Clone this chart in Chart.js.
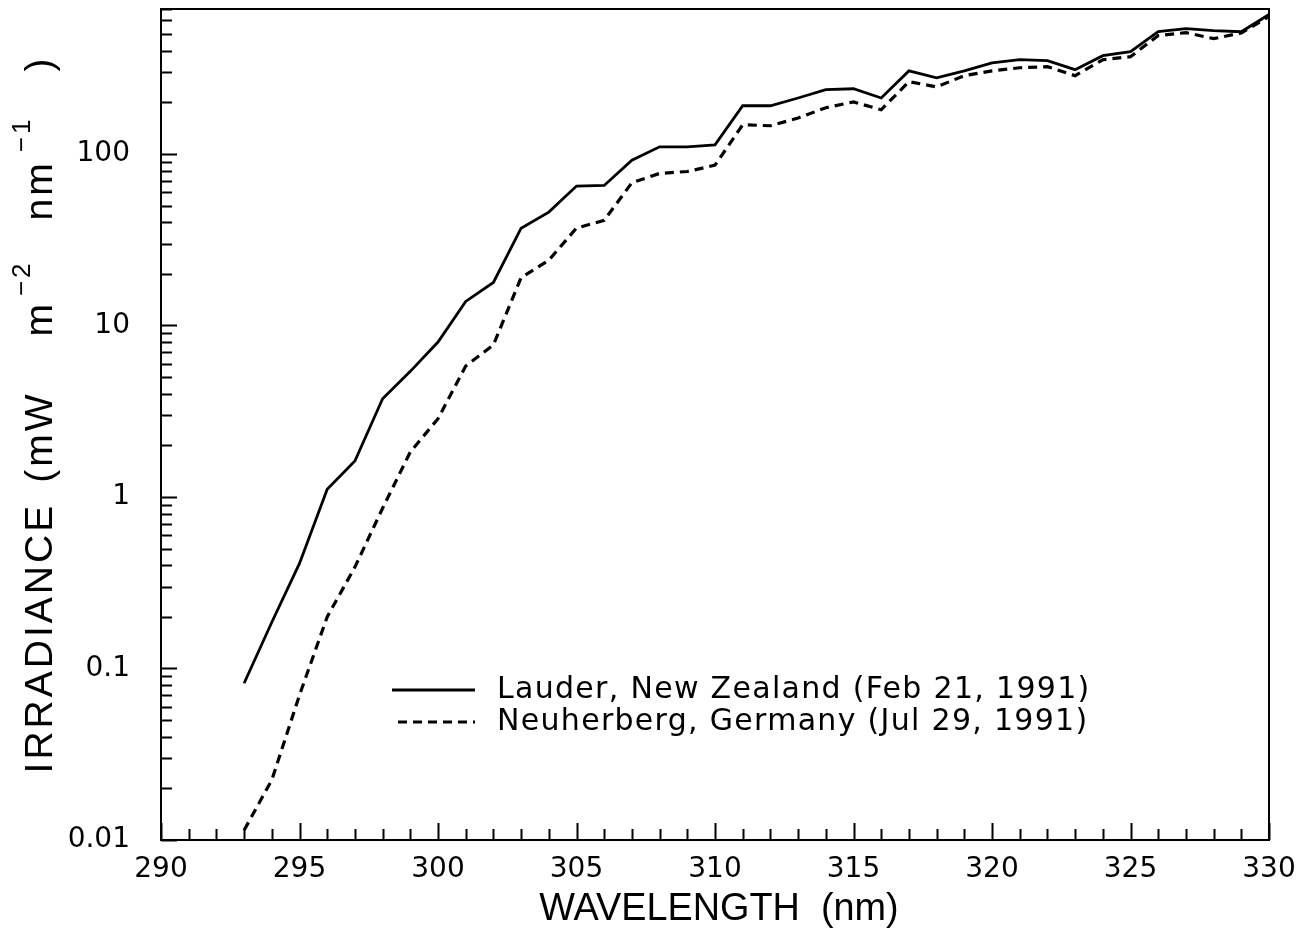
<!DOCTYPE html>
<html>
<head>
<meta charset="utf-8">
<script src="https://cdn.jsdelivr.net/npm/chart.js@4.4.0/dist/chart.umd.min.js"></script>
<style>
  html, body { margin: 0; padding: 0; background: #fff; }
  #wrap { width: 1309px; height: 929px; }
</style>
</head>
<body>
<div id="wrap"><canvas id="myChart" width="1309" height="929"></canvas></div>
<script>
// one reading per nm
const wavelength = [293, 294, 295, 296, 297, 298, 299, 300, 301, 302, 303, 304, 305, 306, 307, 308, 309, 310, 311,
  312, 313, 314, 315, 316, 317, 318, 319, 320, 321, 322, 323, 324, 325, 326, 327, 328, 329, 330];
const lauder = [0.082, 0.186, 0.41, 1.11, 1.62, 3.74, 5.4, 8.0, 13.8, 17.8, 36.9, 45.8, 65, 65.5, 92, 110, 110, 113, 191,
  191, 212, 237, 240, 212, 305, 278, 305, 340, 355, 350, 310, 374, 395, 517, 538, 524, 516, 650];
const neuherberg = [0.0114, 0.0224, 0.07, 0.2, 0.39, 0.86, 1.83, 2.86, 5.8, 7.7, 19, 24, 37, 41, 68, 77, 79, 86, 148,
  146, 162, 186, 201, 181, 264, 246, 286, 305, 318, 323, 286, 354, 369, 490, 510, 470, 508, 632];

const xTickValues = [290, 295, 300, 305, 310, 315, 320, 325, 330];
const yTickValues = [0.01, 0.1, 1, 10, 100];
const yTickLabels = ['0.01', '0.1', '1', '10', '100'];
const seriesNames = ['Lauder, New Zealand (Feb 21, 1991)', 'Neuherberg, Germany (Jul 29, 1991)'];
const xTitle = 'WAVELENGTH  (nm)';

const toPoints = ys => wavelength.map((x, i) => ({ x: x, y: ys[i] }));

// frame + ticks pointing inwards, like the original plot
const frameTicks = {
  id: 'frameTicks',
  afterDatasetsDraw(chart) {
    const { ctx, chartArea: a, scales: { x, y } } = chart;
    ctx.save();
    ctx.strokeStyle = '#000';
    ctx.lineWidth = 2;
    ctx.strokeRect(a.left, a.top, a.right - a.left, a.bottom - a.top);
    ctx.beginPath();
    for (let v = x.min; v <= x.max; v++) {
      const px = Math.round(x.getPixelForValue(v)) + 0.5;
      const len = v % 5 === 0 ? 17 : 11;
      ctx.moveTo(px, a.bottom);
      ctx.lineTo(px, a.bottom - len);
    }
    for (let d = -2; d <= 2; d++) {
      for (let m = 1; m <= 9; m++) {
        const v = m * Math.pow(10, d);
        if (v > y.max) break;
        const py = Math.round(y.getPixelForValue(v)) + 0.5;
        ctx.moveTo(a.left, py);
        ctx.lineTo(a.left + (m === 1 ? 16 : 11), py);
      }
    }
    ctx.stroke();
    ctx.restore();
  }
};

// axis titles, y one with raised exponents
const axisTitles = {
  id: 'axisTitles',
  afterDraw(chart) {
    const { ctx, chartArea: a } = chart;
    ctx.save();
    ctx.fillStyle = '#000';
    ctx.font = '39px "Liberation Sans"';
    ctx.textBaseline = 'alphabetic';

    ctx.save();
    ctx.translate((a.left + a.right) / 2 + 4, 920);
    ctx.scale(0.97, 1);
    ctx.textAlign = 'center';
    ctx.fillText(xTitle, 0, 0);
    ctx.restore();

    const big = '39px "Liberation Sans"', small = '26px "Liberation Sans"';
    // text, font, raise, gap after
    const parts = [
      ['IRRADIANCE', big, 0, 20], ['(mW', big, 0, 55], ['m', big, 0, 5], ['\u22122', small, -22, 40],
      ['nm', big, 0, 8], ['\u22121', small, -22, 45], [')', big, 0, 0]
    ];
    ctx.letterSpacing = '3px';
    let total = 0;
    parts.forEach(p => { ctx.font = p[1]; total += ctx.measureText(p[0]).width + p[3]; });
    ctx.save();
    ctx.translate(52, (a.top + a.bottom) / 2 - 10);
    ctx.rotate(-Math.PI / 2);
    ctx.textAlign = 'left';
    let cx = -total / 2;
    parts.forEach(p => {
      ctx.font = p[1];
      ctx.fillText(p[0], cx, p[2]);
      cx += ctx.measureText(p[0]).width + p[3];
    });
    ctx.restore();
    ctx.restore();
  }
};

// legend sits inside the plot
const innerLegend = {
  id: 'innerLegend',
  afterDraw(chart) {
    const { ctx } = chart;
    ctx.save();
    ctx.font = '30px "DejaVu Sans"';
    ctx.letterSpacing = '1.3px';
    ctx.fillStyle = '#000';
    ctx.textBaseline = 'middle';
    chart.data.datasets.forEach((ds, i) => {
      const yy = 690 + i * 32;
      ctx.strokeStyle = ds.borderColor;
      ctx.lineWidth = ds.borderWidth;
      ctx.setLineDash(ds.borderDash || []);
      ctx.beginPath();
      ctx.moveTo(i === 0 ? 392 : 398, yy);
      ctx.lineTo(475, yy);
      ctx.stroke();
      ctx.setLineDash([]);
      ctx.fillText(ds.label, 497, yy);
    });
    ctx.restore();
  }
};

const ctx = document.getElementById('myChart').getContext('2d');
const myChart = new Chart(ctx, {
  type: 'line',
  data: {
    datasets: [{
      label: seriesNames[0],
      data: toPoints(lauder),
      borderColor: '#000',
      borderWidth: 2.8,
      pointRadius: 0,
      tension: 0
    }, {
      label: seriesNames[1],
      data: toPoints(neuherberg),
      borderColor: '#000',
      borderWidth: 3.2,
      borderDash: [9, 6],
      pointRadius: 0,
      tension: 0
    }]
  },
  options: {
    responsive: false,
    animation: false,
    devicePixelRatio: 1,
    layout: { padding: { top: 9, right: 40, left: 0, bottom: 0 } },
    plugins: { legend: { display: false }, tooltip: { enabled: false } },
    scales: {
      x: {
        type: 'linear',
        min: 290,
        max: 330,
        afterBuildTicks: s => { s.ticks = xTickValues.map(v => ({ value: v })); },
        afterFit: s => { s.height = 89; s.paddingLeft = 0; s.paddingRight = 0; },
        grid: { display: false, drawTicks: false },
        border: { display: false },
        ticks: { color: '#000', padding: 13, maxRotation: 0, font: { family: 'DejaVu Sans', size: 28 } }
      },
      y: {
        type: 'logarithmic',
        min: 0.01,
        max: 700,
        afterBuildTicks: s => { s.ticks = yTickValues.map(v => ({ value: v })); },
        afterFit: s => { s.width = 161; s.paddingTop = 0; s.paddingBottom = 0; },
        grid: { display: false, drawTicks: false },
        border: { display: false },
        ticks: {
          color: '#000',
          padding: 31,
          font: { family: 'DejaVu Sans', size: 28 },
          callback: v => yTickLabels[yTickValues.indexOf(v)] || ''
        }
      }
    }
  },
  plugins: [frameTicks, axisTitles, innerLegend]
});
</script>
</body>
</html>
